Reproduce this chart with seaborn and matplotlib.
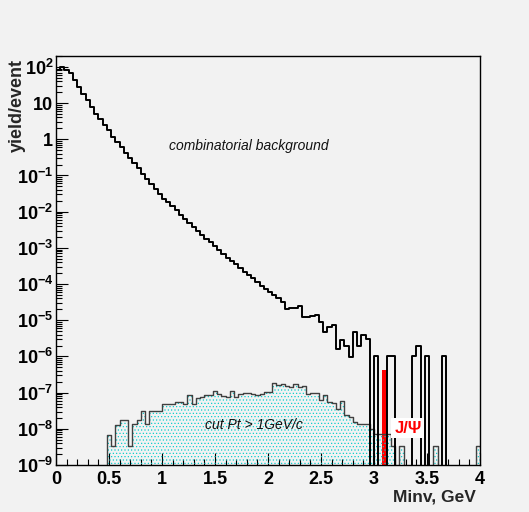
import numpy as np
import pandas as pd
import matplotlib
matplotlib.use("Agg")
import matplotlib.pyplot as plt
import seaborn as sns
from matplotlib.ticker import FixedLocator, FixedFormatter, MultipleLocator, LogLocator, NullFormatter

# ---------------- data ----------------
bin_edges = [round(0.04 * k, 2) for k in range(101)]
bin_centers = [round(0.04 * k + 0.02, 3) for k in range(100)]

# combinatorial background (yield/event per 0.04 GeV bin)
background = [
    83, 98, 83, 68, 44, 28, 18, 12.3, 7.8, 5.1,
    3.7, 2.5, 1.8, 1.15, 0.85, 0.62, 0.42, 0.30, 0.22, 0.16,
    0.11, 0.081, 0.058, 0.042, 0.030, 0.023, 0.018, 0.014, 0.011, 8.1e-3,
    6.3e-3, 4.9e-3, 3.8e-3, 3.0e-3, 2.3e-3, 1.8e-3, 1.45e-3, 1.12e-3, 8.9e-4, 6.9e-4,
    5.4e-4, 4.4e-4, 3.5e-4, 2.8e-4, 2.2e-4, 1.8e-4, 1.5e-4, 1.17e-4, 8.9e-5, 7.1e-5,
    6.0e-5, 5.0e-5, 4.0e-5, 3.2e-5, 2.1e-5, 2.2e-5, 2.2e-5, 2.4e-5, 1.23e-5, 1.26e-5,
    1.32e-5, 1.38e-5, 8.9e-6, 4.7e-6, 6.5e-6, 7.2e-6, 1.6e-6, 2.8e-6, 2.0e-6, 9.5e-7,
    4.7e-6, 2.0e-6, 3.8e-6, 3.1e-6, 0, 1e-6, 0, 0, 1e-6, 1e-6,
    0, 0, 0, 0, 1e-6, 1.9e-6, 0, 1e-6, 0, 0,
    0, 1e-6, 0, 0, 0, 0, 0, 0, 0, 0,
]

# background after the cut Pt > 1 GeV/c
cut_pt = [
    0, 0, 0, 0, 0, 0, 0, 0, 0, 0,
    0, 0, 6.8e-9, 3.3e-9, 1.3e-8, 1.7e-8, 1.7e-8, 3.3e-9, 1.4e-8, 1.7e-8,
    3.1e-8, 1.4e-8, 3.1e-8, 3.1e-8, 3.1e-8, 5.0e-8, 4.8e-8, 5.0e-8, 5.4e-8, 5.5e-8,
    5.0e-8, 8.5e-8, 5.0e-8, 7.0e-8, 7.5e-8, 8.5e-8, 8.5e-8, 1.1e-7, 9.0e-8, 8.0e-8,
    7.5e-8, 1.1e-7, 7.5e-8, 9.0e-8, 9.5e-8, 1.0e-7, 9.0e-8, 8.5e-8, 9.0e-8, 1.05e-7,
    1.05e-7, 1.8e-7, 1.6e-7, 1.7e-7, 1.5e-7, 1.45e-7, 1.7e-7, 1.4e-7, 1.5e-7, 9.0e-8,
    9.5e-8, 9.8e-8, 6.2e-8, 8.5e-8, 5.6e-8, 5.2e-8, 3.5e-8, 6.0e-8, 2.4e-8, 2.1e-8,
    1.5e-8, 1.4e-8, 1.4e-8, 1.4e-8, 1.0e-8, 7.0e-9, 7.0e-9, 7.0e-9, 7.0e-9, 3.4e-9,
    0, 3.4e-9, 0, 0, 0, 0, 0, 0, 0, 3.4e-9,
    0, 0, 0, 0, 0, 0, 0, 0, 0, 3.4e-9,
]

# J/Psi signal
jpsi_minv = [3.10]
jpsi_yield = [4.2e-7]
jpsi_edges = [3.08, 3.12]

y_ticks = [1e-9, 1e-8, 1e-7, 1e-6, 1e-5, 1e-4, 1e-3, 1e-2, 1e-1, 1, 10, 1e2]
y_tick_labels = [r"$10^{-9}$", r"$10^{-8}$", r"$10^{-7}$", r"$10^{-6}$", r"$10^{-5}$",
                 r"$10^{-4}$", r"$10^{-3}$", r"$10^{-2}$", r"$10^{-1}$", "1", "10", r"$10^{2}$"]
x_ticks = [0, 0.5, 1, 1.5, 2, 2.5, 3, 3.5, 4]
x_tick_labels = ["0", "0.5", "1", "1.5", "2", "2.5", "3", "3.5", "4"]

df_bkg = pd.DataFrame({"minv": bin_centers, "yield": background})
df_cut = pd.DataFrame({"minv": bin_centers, "yield": cut_pt})
df_jpsi = pd.DataFrame({"minv": jpsi_minv, "yield": jpsi_yield})

# ---------------- style ----------------
sns.set_theme(style="ticks")
plt.rcParams["font.family"] = ["Liberation Sans", "DejaVu Sans"]
plt.rcParams["mathtext.fontset"] = "custom"
plt.rcParams["mathtext.rm"] = "Liberation Sans:bold"
plt.rcParams["mathtext.it"] = "Liberation Sans:italic:bold"
plt.rcParams["mathtext.bf"] = "Liberation Sans:bold"
plt.rcParams["mathtext.default"] = "rm"
plt.rcParams["hatch.linewidth"] = 0.45

bg = "#f2f2f2"
fig = plt.figure(figsize=(5.29, 5.12), dpi=100, facecolor=bg)
ax = fig.add_axes([56 / 529, 1 - 465 / 512, 424 / 529, 409 / 512])
ax.set_facecolor(bg)
ax.set_yscale("log")

# J/Psi red bar
sns.histplot(data=df_jpsi, x="minv", weights="yield", bins=jpsi_edges,
             color="red", alpha=1.0, linewidth=0, ax=ax)

# hatched cut histogram
sns.histplot(data=df_cut, x="minv", weights="yield", bins=bin_edges,
             element="step", fill=True, color="#00d8d8", ax=ax)
coll = ax.collections[-1]
coll.set_facecolor("none")
coll.set_edgecolor("#00cccc")
coll.set_hatch(".....")
coll.set_linewidth(0)
sns.histplot(data=df_cut, x="minv", weights="yield", bins=bin_edges,
             element="step", fill=False, color="#404040", linewidth=1.0, ax=ax)

# combinatorial background
sns.histplot(data=df_bkg, x="minv", weights="yield", bins=bin_edges,
             element="step", fill=False, color="black", linewidth=1.4, ax=ax)

ax.set_xlim(0, 4)
ax.set_ylim(1e-9, 2e2)
ax.set_xlabel("")
ax.set_ylabel("")

ax.xaxis.set_major_locator(FixedLocator(x_ticks))
ax.xaxis.set_major_formatter(FixedFormatter(x_tick_labels))
ax.xaxis.set_minor_locator(MultipleLocator(0.1))
ax.yaxis.set_major_locator(FixedLocator(y_ticks))
ax.yaxis.set_major_formatter(FixedFormatter(y_tick_labels))
ax.yaxis.set_minor_locator(LogLocator(base=10, subs=np.arange(2, 10), numticks=30))
ax.yaxis.set_minor_formatter(NullFormatter())

ax.tick_params(which="both", direction="in", top=False, right=False,
               colors="black", width=0.8)
ax.tick_params(which="major", length=8.6)
ax.tick_params(which="minor", length=4.3)
ax.tick_params(axis="x", which="major", labelsize=13, pad=4)
ax.tick_params(axis="y", which="major", labelsize=13, pad=2)
for lab in ax.get_xticklabels() + ax.get_yticklabels():
    lab.set_fontweight("bold")
for sp in ax.spines.values():
    sp.set_visible(True)
    sp.set_color("black")
    sp.set_linewidth(1.0)

# annotations
ax.text(1.82, 10 ** -0.18, "combinatorial background", style="italic",
        fontsize=10, ha="center", va="center", color="#111111")
ax.text(1.87, 10 ** -7.9, "cut Pt > 1GeV/c", style="italic",
        fontsize=10, ha="center", va="center", color="#111111")
ax.text(3.32, 10 ** -7.98, "J/Ψ", color="red", fontweight="bold", fontsize=12,
        ha="center", va="center",
        bbox=dict(facecolor="white", edgecolor="none", pad=2.0))

fig.text(17 / 529, 1 - 59 / 512, "yield/event", rotation=90, ha="center", va="top",
         fontsize=13, fontweight="bold")
fig.text(476 / 529, 1 - 497 / 512, "Minv, GeV", ha="right", va="center",
         fontsize=12.5, fontweight="bold")

fig.savefig("out.png", dpi=100, facecolor=bg)
